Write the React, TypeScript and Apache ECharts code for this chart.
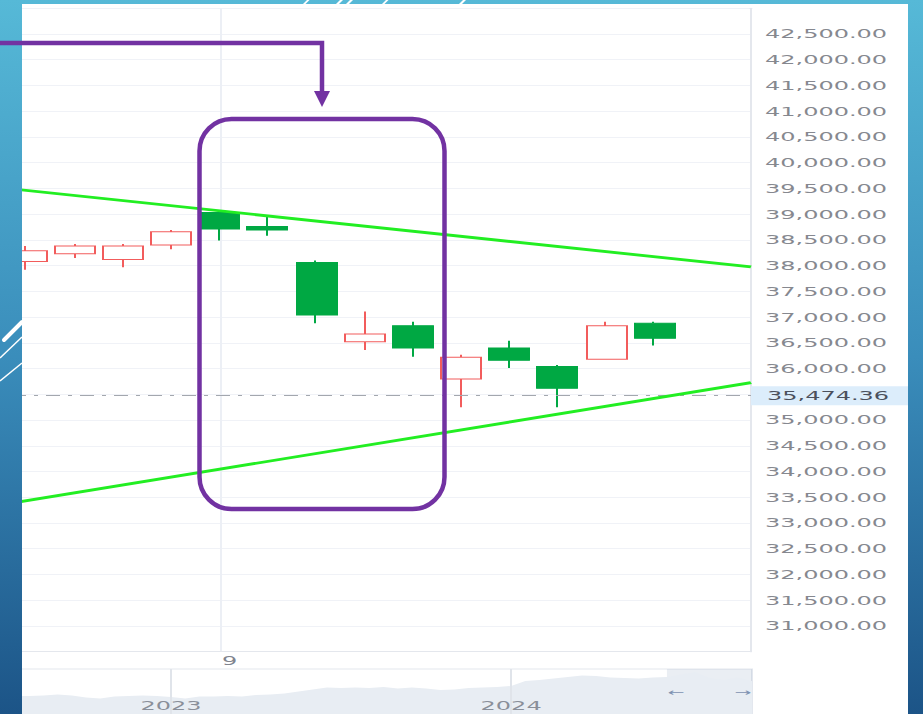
import React, { useEffect, useRef } from 'react';
import * as echarts from 'echarts';

// ---- data ----
const slots = ['4', '5', '6', '7', '8', '9', '10', '11', '12', '13', '14', '15', '16', '17', '18', '19', '20'];
const labelIndex = 5; // slot shown as "9"

// [open, close, low, high]
const candles: (number[] | null)[] = [
  null,
  [38080, 38290, 37920, 38380],
  [38230, 38380, 38150, 38420],
  [38120, 38380, 37970, 38420],
  [38400, 38660, 38320, 38690],
  [39030, 38710, 38490, 39080],
  [38760, 38690, 38580, 38960],
  [38060, 37040, 36880, 38100],
  [36520, 36670, 36360, 37110],
  [36830, 36400, 36230, 36910],
  [35800, 36220, 35250, 36270],
  [36400, 36160, 36010, 36540],
  [36040, 35620, 35250, 36070],
  [36180, 36830, 36180, 36910],
  [36880, 36590, 36450, 36910],
  null,
  null,
];

const upperTrend = [[0, 39560], [16, 37975]];
const lowerTrend = [[0, 33280], [16, 35727]];
const lastPrice = 35474.36;
const yMin = 30500;
const yMax = 43000;
const yStep = 500;
const hiddenTicks = [30500, 35500, 43000];

const navValues = [
  30830, 30830, 31000, 31340, 31000, 30320, 29980, 30660, 30830, 31000,
  30830, 30490, 29980, 30660, 30660, 30830, 30660, 31170, 31340, 31680,
  32360, 33040, 33720, 33550, 33720, 33550, 33890, 33380, 33720, 33380,
  32870, 33040, 33550, 33720, 33890, 34230, 35925, 36265, 36774, 37283,
  37793, 37623, 37113, 36944, 36774, 37113, 37283, 38132, 38981, 36944,
  36265, 37113, 35925,
];
const navCats = navValues.map((_, i) => 'p' + i);
const navYearTicks: Record<number, string> = { 11: '2023', 35: '2024' };
const navWindowStart = 46;

const RED = '#f25c5c';
const GREEN = '#00a843';
const TREND = '#22ee22';
const PURPLE = '#7232a2';
const FONT = 'DejaVu Sans';

const fmt = (v: number) =>
  v.toLocaleString('en-US', { minimumFractionDigits: 2, maximumFractionDigits: 2 });

export default function App() {
  const chartRef = useRef<HTMLDivElement>(null);
  const overlayRef = useRef<HTMLDivElement>(null);

  useEffect(() => {
    if (!chartRef.current || !overlayRef.current) return;
    const chart = echarts.init(chartRef.current, undefined, { renderer: 'svg' });
    const overlay = echarts.init(overlayRef.current, undefined, { renderer: 'svg' });

    chart.setOption({
      animation: false,
      backgroundColor: '#ffffff',
      textStyle: { fontFamily: FONT },
      grid: [
        { left: 0, right: 78.5, top: 4.26, bottom: 78.3 },
        { left: 18.6, right: 78, top: 665, bottom: 8, show: true, borderColor: '#e3e7ee', borderWidth: 1 },
      ],
      xAxis: [
        {
          type: 'category',
          gridIndex: 0,
          data: slots,
          boundaryGap: false,
          axisLine: { show: true, lineStyle: { color: '#e4e7ed' } },
          axisTick: { show: false },
          axisLabel: {
            interval: (i: number) => i === labelIndex,
            color: '#80848e',
            fontSize: 12,
            fontFamily: FONT,
            margin: 3,
            padding: [0, 0, 0, 10],
          },
          splitLine: {
            show: true,
            interval: (i: number) => i === labelIndex,
            lineStyle: { color: '#eceff5' },
          },
        },
        {
          type: 'category',
          gridIndex: 1,
          data: navCats,
          boundaryGap: false,
          z: 6,
          axisLine: { show: false },
          axisTick: { show: false },
          axisLabel: {
            inside: true,
            interval: (i: number) => navYearTicks[i] !== undefined,
            formatter: (_v: string, i: number) => navYearTicks[i] ?? '',
            color: '#8a8f99',
            fontSize: 12,
            fontFamily: FONT,
            margin: 10,
          },
          splitLine: {
            show: true,
            interval: (i: number) => navYearTicks[i] !== undefined,
            lineStyle: { color: '#e0e4ea' },
          },
        },
      ],
      yAxis: [
        {
          type: 'value',
          gridIndex: 0,
          position: 'right',
          min: yMin,
          max: yMax,
          interval: yStep,
          axisLine: { show: true, lineStyle: { color: '#e4e7ed' } },
          axisTick: { show: false },
          axisLabel: {
            color: '#86888f',
            fontSize: 12,
            fontFamily: FONT,
            margin: 7,
            formatter: (v: number) => (hiddenTicks.includes(v) ? '' : fmt(v)),
          },
          splitLine: { show: true, lineStyle: { color: '#f0f2f7' } },
        },
        { type: 'value', gridIndex: 1, min: 22000, max: 40000, show: false, splitLine: { show: false } },
      ],
      series: [
        {
          type: 'candlestick',
          xAxisIndex: 0,
          yAxisIndex: 0,
          data: candles.map((c) => (c ? c : '-')),
          barWidth: 20.5,
          itemStyle: {
            color: '#ffffff',
            color0: GREEN,
            borderColor: RED,
            borderColor0: GREEN,
            borderWidth: 1,
          },
          markLine: {
            silent: true,
            symbol: 'none',
            data: [{ yAxis: lastPrice }],
            lineStyle: { color: '#a3a7ae', type: [7, 4, 2, 4], width: 1 },
            label: {
              show: true,
              position: 'end',
              distance: 0,
              formatter: () => fmt(lastPrice),
              color: '#4b505c',
              fontSize: 12,
              fontFamily: FONT,
              lineHeight: 13,
              backgroundColor: '#dcedfb',
              padding: [3, 9.5, 3, 8],
            },
          },
          z: 3,
        },
        {
          type: 'line',
          xAxisIndex: 0,
          yAxisIndex: 0,
          data: upperTrend,
          symbol: 'none',
          silent: true,
          lineStyle: { color: TREND, width: 2.8 },
          z: 5,
        },
        {
          type: 'line',
          xAxisIndex: 0,
          yAxisIndex: 0,
          data: lowerTrend,
          symbol: 'none',
          silent: true,
          lineStyle: { color: TREND, width: 2.8 },
          z: 5,
        },
        {
          type: 'line',
          xAxisIndex: 1,
          yAxisIndex: 1,
          data: navValues,
          symbol: 'none',
          silent: true,
          lineStyle: { width: 0 },
          areaStyle: { color: '#e8edf3', opacity: 1 },
          markArea: {
            silent: true,
            itemStyle: { color: 'rgba(160,178,202,0.22)' },
            data: [[{ xAxis: navCats[navWindowStart] }, { xAxis: navCats[navCats.length - 1] }]],
          },
        },
      ],
      graphic: [
        {
          type: 'text',
          x: 349,
          y: 689,
          z: 100,
          silent: true,
          style: { text: '←', fill: '#7d92b1', fontSize: 10, fontFamily: FONT, align: 'center', verticalAlign: 'middle' },
        },
        {
          type: 'text',
          x: 382.5,
          y: 689,
          z: 100,
          silent: true,
          style: { text: '→', fill: '#7d92b1', fontSize: 10, fontFamily: FONT, align: 'center', verticalAlign: 'middle' },
        },
      ],
    });

    const grad = new echarts.graphic.LinearGradient(
      0, 0, 0, 714,
      [
        { offset: 0, color: '#56b9d7' },
        { offset: 0.5, color: '#3a8dbb' },
        { offset: 1, color: '#1c5487' },
      ],
      true
    );
    const stripe = (x: number, w: number) => ({
      type: 'polygon',
      silent: true,
      shape: { points: [[x, 4], [x + w, 4], [x + w + 4, 0], [x + 4, 0]] },
      style: { fill: '#ffffff' },
    });

    overlay.setOption({
      animation: false,
      backgroundColor: 'transparent',
      graphic: [
        { type: 'rect', silent: true, shape: { x: 0, y: 0, width: 22, height: 714 }, style: { fill: grad } },
        { type: 'rect', silent: true, shape: { x: 0, y: 0, width: 923, height: 4 }, style: { fill: grad } },
        { type: 'rect', silent: true, shape: { x: 908, y: 0, width: 15, height: 714 }, style: { fill: grad } },
        stripe(303, 2.5),
        stripe(336, 3),
        stripe(346, 3),
        stripe(382, 2.5),
        stripe(459, 3),
        {
          type: 'line',
          silent: true,
          shape: { x1: 4, y1: 340, x2: 22, y2: 322 },
          style: { stroke: '#ffffff', lineWidth: 4, lineCap: 'round' },
        },
        {
          type: 'line',
          silent: true,
          shape: { x1: 0, y1: 358, x2: 22, y2: 337 },
          style: { stroke: '#ffffff', lineWidth: 1.5 },
        },
        {
          type: 'line',
          silent: true,
          shape: { x1: 0, y1: 381, x2: 22, y2: 363 },
          style: { stroke: '#ffffff', lineWidth: 1.5 },
        },
        {
          type: 'polyline',
          silent: true,
          shape: { points: [[0, 43], [322, 43], [322, 93]] },
          style: { stroke: PURPLE, lineWidth: 4.5, fill: 'none', lineJoin: 'miter' },
        },
        {
          type: 'polygon',
          silent: true,
          shape: { points: [[314, 91], [330, 91], [322, 107]] },
          style: { fill: PURPLE },
        },
        {
          type: 'rect',
          silent: true,
          shape: { x: 199.5, y: 119, width: 245, height: 390, r: 32 },
          style: { fill: 'none', stroke: PURPLE, lineWidth: 4.5 },
        },
      ],
    });

    return () => {
      chart.dispose();
      overlay.dispose();
    };
  }, []);

  return (
    <div
      style={{
        position: 'fixed',
        left: 0,
        top: 0,
        width: 923,
        height: 714,
        overflow: 'hidden',
        background: '#ffffff',
      }}
    >
      <div
        ref={chartRef}
        style={{
          position: 'absolute',
          left: -22,
          top: 4,
          width: 465,
          height: 726,
          transform: 'scaleX(2)',
          transformOrigin: '0 0',
        }}
      />
      <div
        ref={overlayRef}
        style={{
          position: 'absolute',
          left: 0,
          top: 0,
          width: 923,
          height: 714,
          pointerEvents: 'none',
          zIndex: 2,
        }}
      />
    </div>
  );
}
